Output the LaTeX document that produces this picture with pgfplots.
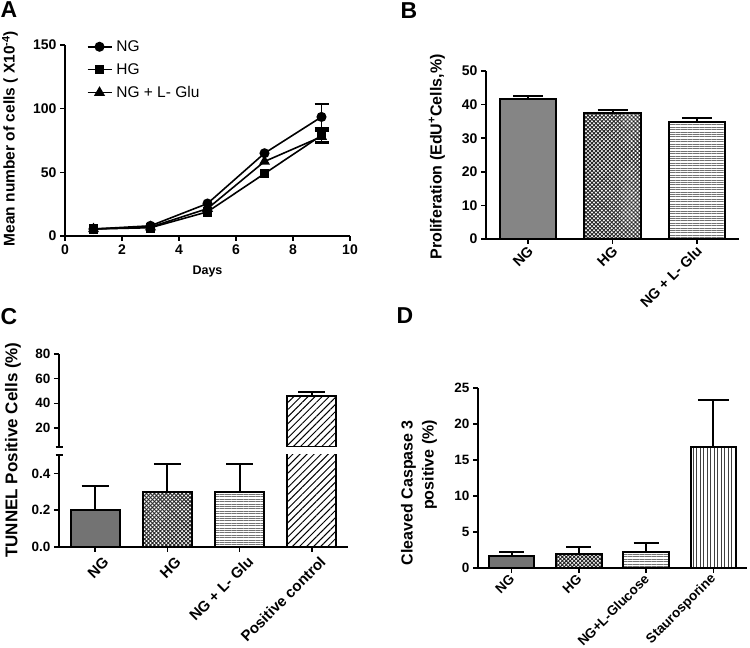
\documentclass[border=0pt]{standalone}
\usepackage{pgfplots}
\pgfplotsset{compat=1.18}
\usepackage{fontspec}
\setmainfont{Liberation Sans}
\usetikzlibrary{patterns.meta}
\newcommand\fs[1]{\bfseries\fontsize{#1}{#1}\selectfont}
\pgfplotsset{
  gp/.style={
    scale only axis, anchor=south west,
    axis x line*=bottom, axis y line*=left,
    axis line style={line width=1.8pt,-},
    every tick/.style={line width=1.5pt,black},
    tick align=outside, major tick length=5pt,
    /pgf/number format/assume math mode=true,
    clip=true,
  },
  eb/.style={error bars/.cd, y dir=plus, y explicit,
    error bar style={line width=2pt,black,solid},
    error mark options={rotate=90,line width=2pt,black,mark size=#1}},
  bar/.style={ybar, bar shift=0pt, draw=black, line width=2pt},
}
\begin{document}
\begin{tikzpicture}
\path[use as bounding box] (0pt,0pt) rectangle (750pt,648pt);
\node[font=\fs{23}] at (9pt,638pt) {A};
\node[font=\fs{23}] at (409pt,637pt) {B};
\node[font=\fs{23}] at (9pt,331pt) {C};
\node[font=\fs{23}] at (405pt,332pt) {D};

% ---------------- Panel A
\begin{axis}[gp, at={(65pt,412pt)}, width=285pt, height=191pt,
  xmin=0, xmax=10, ymin=0, ymax=150,
  xtick={0,2,...,10}, ytick={0,50,100,150},
  tick label style={font=\fs{14}},
  xlabel={Days}, xlabel style={font=\fs{12.5}, at={(axis description cs:0.5,-0.188)}, anchor=center},
  ylabel={Mean number of cells ( X10\textsuperscript{-4})},
  ylabel style={font=\fs{15.5}, at={(axis description cs:-0.193,0.51)}, anchor=center},
  legend style={at={(axis description cs:0.065,1.045)}, anchor=north west, draw=none, fill=none,
    font=\fontsize{15.5}{15.5}\selectfont, row sep=6.5pt, nodes={inner xsep=4pt}},
  legend cell align=left,
  legend image code/.code={\draw[mark repeat=2,mark phase=2] plot coordinates {(0pt,0pt)(12pt,0pt)(24pt,0pt)};},
]
\addplot[black, line width=1.6pt, mark=*, mark size=4.2pt] coordinates {(1,5.5) (3,8) (5,25.5) (7,65) (9,93.5)};
\addlegendentry{NG}
\addplot[black, line width=1.6pt, mark=square*, mark size=4pt] coordinates {(1,5.5) (3,6.5) (5,19) (7,49) (9,79)};
\addlegendentry{HG}
\addplot[black, line width=1.6pt, mark=triangle*, mark size=4.8pt] coordinates {(1,5.5) (3,7) (5,21.5) (7,58.5) (9,78)};
\addlegendentry{NG + L- Glu}
\addplot[black, only marks, mark=none, forget plot, error bars/.cd, y dir=both, y explicit,
  error bar style={line width=1.9pt}, error mark options={rotate=90,line width=1.9pt,mark size=7pt}]
  coordinates {(9,93.5)+-(0,10) (9,79)+-(0,6) (9,78)+-(0,4.5)};
\end{axis}

% ---------------- Panel B
\begin{axis}[gp, at={(486pt,409pt)}, width=253pt, height=168pt,
  xmin=-0.5, xmax=2.5, ymin=0, ymax=50,
  ytick={0,10,...,50}, xtick={0,1,2}, xticklabels={NG,HG,NG + L- Glu},
  xticklabel style={rotate=45, anchor=east, font=\fs{14.5}, yshift=-5pt, xshift=2pt},
  yticklabel style={font=\fs{14}},
  ylabel={Proliferation (EdU\textsuperscript{+}Cells,\%)},
  ylabel style={font=\fs{16}, at={(axis description cs:-0.194,0.488)}, anchor=center},
]
\addplot[bar, bar width=0.67, fill=black!48, eb=15pt] coordinates {(0,41.6)+-(0,1.0)};
\addplot[bar, bar width=0.67, pattern={Hatch[angle=45,distance=2.8pt,line width=0.9pt]}, pattern color=black!85, eb=15pt] coordinates {(1,37.6)+-(0,0.8)};
\addplot[bar, bar width=0.67, pattern={Lines[angle=0,distance=2.4pt,line width=0.8pt]}, pattern color=black!55, eb=15pt] coordinates {(2,34.9)+-(0,1.2)};
\end{axis}

% ---------------- Panel C (lower)
\begin{axis}[gp, at={(59pt,101pt)}, width=289pt, height=92pt,
  xmin=-0.5, xmax=3.5, ymin=0, ymax=0.5,
  ytick={0,0.2,0.4}, xtick={0,1,2,3},
  xticklabels={NG,HG,NG + L- Glu,Positive control},
  xticklabel style={rotate=45, anchor=east, font=\fs{15}, xshift=6pt, yshift=-13pt},
  yticklabel style={font=\fs{13.5}, /pgf/number format/.cd, fixed, fixed zerofill, precision=1},
  extra y ticks={0.5}, extra y tick labels={},
  extra y tick style={tick align=center, major tick length=7pt},
  ylabel={TUNNEL Positive Cells (\%)},
  ylabel style={font=\fs{17}, at={(axis description cs:-0.159,1.054)}, anchor=center},
]
\addplot[bar, bar width=0.68, fill=black!55, eb=13.5pt] coordinates {(0,0.2)+-(0,0.13)};
\addplot[bar, bar width=0.68, pattern={Hatch[angle=45,distance=2.8pt,line width=0.9pt]}, pattern color=black!85, eb=13.5pt] coordinates {(1,0.3)+-(0,0.15)};
\addplot[bar, bar width=0.68, pattern={Lines[angle=0,distance=2.4pt,line width=0.8pt]}, pattern color=black!55, eb=13.5pt] coordinates {(2,0.3)+-(0,0.15)};
\addplot[bar, bar width=0.68, pattern={Lines[angle=45,distance=5pt,line width=1pt]}, pattern color=black, eb=13.5pt] coordinates {(3,46.2)+-(0,3)};
\end{axis}

% ---------------- Panel C (upper)
\begin{axis}[gp, at={(59pt,201pt)}, width=289pt, height=93pt,
  xmin=-0.5, xmax=3.5, ymin=4.6, ymax=80,
  axis x line=none, axis y line*=left,
  ytick={20,40,60,80},
  yticklabel style={font=\fs{13.5}},
  extra y ticks={4.6}, extra y tick labels={},
  extra y tick style={tick align=center, major tick length=7pt},
]
\addplot[bar, bar width=0.68, pattern={Lines[angle=45,distance=5pt,line width=1pt]}, pattern color=black, eb=13.5pt] coordinates {(3,46.2)+-(0,3)};
\end{axis}

% ---------------- Panel D
\begin{axis}[gp, at={(478pt,80pt)}, width=269pt, height=180pt,
  xmin=-0.5, xmax=3.5, ymin=0, ymax=25,
  ytick={0,5,...,25}, xtick={0,1,2,3},
  xticklabels={NG,HG,NG+L-Glucose,Staurosporine},
  xticklabel style={rotate=45, anchor=east, font=\fs{13.5}, yshift=-3pt, xshift=1pt},
  yticklabel style={font=\fs{13.5}},
  ylabel={Cleaved Caspase 3\\positive (\%)},
  ylabel style={font=\bfseries\fontsize{16}{21}\selectfont, align=right, at={(axis description cs:-0.219,0.419)}, anchor=center},
]
\addplot[bar, bar width=0.68, fill=black!55, eb=12.5pt] coordinates {(0,1.6)+-(0,0.65)};
\addplot[bar, bar width=0.68, pattern={Hatch[angle=45,distance=2.8pt,line width=0.9pt]}, pattern color=black!85, eb=12.5pt] coordinates {(1,1.95)+-(0,0.9)};
\addplot[bar, bar width=0.68, pattern={Lines[angle=0,distance=2.4pt,line width=0.8pt]}, pattern color=black!55, eb=12.5pt] coordinates {(2,2.25)+-(0,1.2)};
\addplot[bar, bar width=0.68, pattern={Lines[angle=90,distance=3.5pt,line width=0.9pt]}, pattern color=black!75, eb=15.5pt] coordinates {(3,16.8)+-(0,6.5)};
\end{axis}
\end{tikzpicture}
\end{document}
